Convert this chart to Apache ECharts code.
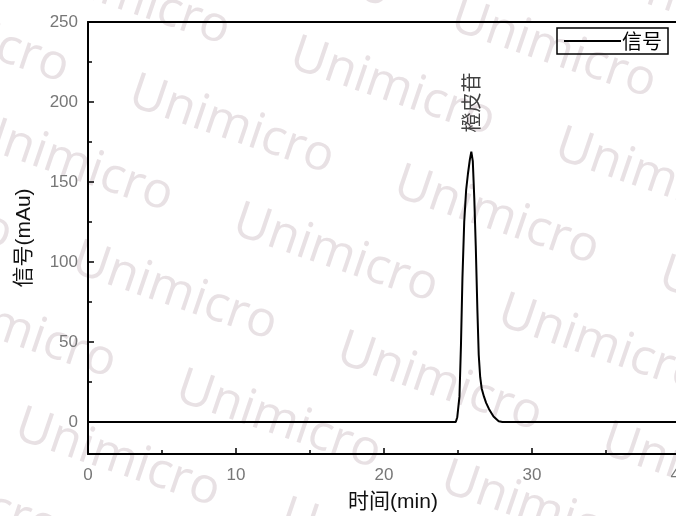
<!DOCTYPE html>
<html><head><meta charset="utf-8">
<script src="https://cdn.jsdelivr.net/npm/echarts@6/dist/echarts.min.js"></script>
<style>html,body{margin:0;padding:0;background:#fff}#c{width:676px;height:516px}</style>
</head><body><div id="c"></div>
<script>
// Chromatogram signal: [time (min), signal (mAu)]
const signalTimes  = [0, 24.85, 24.95, 25.1, 25.2, 25.3, 25.42, 25.55, 25.67, 25.8, 25.9, 26.0, 26.1, 26.2, 26.31, 26.4, 26.5, 26.6, 26.75, 26.9, 27.1, 27.4, 27.75, 28.0, 40];
const signalValues = [0, 0, 3, 16, 48, 90, 125, 145, 155, 164, 169, 163, 140, 110, 70, 42, 28, 21, 16, 12, 8, 3.5, 0.5, 0, 0];
const seriesName = '信号';
const peakName = '橙皮苷';
const peakPoint = [25.9, 169];
const xTicks = [0, 10, 20, 30, 40];
const yTicks = [0, 50, 100, 150, 200, 250];
const yMinorTicks = [25, 75, 125, 175, 225];
const xAxisName = '时间(min)';
const yAxisName = '信号(mAu)';
const watermarkText = 'Unimicro';

const signalData = signalTimes.map((t, i) => [t, signalValues[i]]);

const wmChildren = [];
for (let r = -5; r <= 5; r++) {
  for (let c = -3; c <= 3; c++) {
    wmChildren.push({
      type: 'text',
      x: c * 280 + (Math.abs(r) % 2) * 140 - 110,
      y: r * 88 - 28,
      style: { text: watermarkText, fill: 'rgba(185,165,172,0.33)', fontSize: 50, fontFamily: 'Open Sans' }
    });
  }
}

const font = '"Liberation Sans", Arial, "Noto Sans CJK SC", sans-serif';
const cjk = '"Noto Sans CJK SC", "Liberation Sans", sans-serif';
const chart = echarts.init(document.getElementById('c'));
chart.setOption({
  animation: false,
  backgroundColor: '#fff',
  graphic: [{ type: 'group', x: 338, y: 258, rotation: -0.33, z: -10, silent: true, children: wmChildren }],
  grid: { left: 88, top: 22, width: 592, bottom: 62, containLabel: false, outerBoundsMode: 'none' },
  legend: {
    data: [{ name: seriesName, icon: 'rect' }], right: 8, top: 28, orient: 'horizontal',
    borderColor: '#000', borderWidth: 1.5, borderRadius: 0,
    padding: [3, 6, 3, 7], itemWidth: 57, itemHeight: 2, itemGap: 2,
    itemStyle: { color: '#000' },
    textStyle: { fontSize: 20, color: '#000', fontFamily: cjk, padding: [0, 0, 0, -4] }
  },
  xAxis: [{
    type: 'value', min: 0, max: 40, interval: 10, position: 'bottom',
    name: xAxisName, nameLocation: 'middle', nameGap: 38,
    nameTextStyle: { fontSize: 21, color: '#111', fontFamily: font, padding: [0, 0, 0, 18] },
    axisLine: { show: true, onZero: false, lineStyle: { color: '#000', width: 2 } },
    axisTick: { show: true, inside: true, length: 6, lineStyle: { color: '#000', width: 1.5 } },
    minorTick: { show: true, splitNumber: 2, length: 4, lineStyle: { color: '#000', width: 1.5 } },
    axisLabel: { fontSize: 17, color: '#777', margin: 13, fontFamily: font, formatter: v => xTicks.includes(v) ? String(v) : '' },
    splitLine: { show: false }
  }, {
    type: 'value', min: 0, max: 40, position: 'top',
    axisLine: { show: true, onZero: false, lineStyle: { color: '#000', width: 2 } },
    axisTick: { show: false }, axisLabel: { show: false }, splitLine: { show: false }
  }],
  yAxis: [{
    type: 'value', min: -20, max: 250, position: 'left',
    name: yAxisName, nameLocation: 'middle', nameGap: 53, nameRotate: 90,
    nameTextStyle: { fontSize: 21, color: '#111', fontFamily: font },
    axisLine: { show: true, onZero: false, lineStyle: { color: '#000', width: 2 } },
    axisTick: { show: true, inside: true, length: 6, customValues: yTicks, lineStyle: { color: '#000', width: 1.5 } },
    axisLabel: { fontSize: 17, color: '#777', margin: 10, fontFamily: font, customValues: yTicks },
    splitLine: { show: false }
  }, {
    type: 'value', min: -20, max: 250, position: 'left',
    axisLine: { show: false },
    axisTick: { show: true, inside: true, length: 4, customValues: yMinorTicks, lineStyle: { color: '#000', width: 1.5 } },
    axisLabel: { show: false }, splitLine: { show: false }
  }],
  series: [{
    name: seriesName, type: 'line', data: signalData, symbol: 'none', showSymbol: false,
    lineStyle: { color: '#000', width: 2 }, itemStyle: { color: '#000' }, z: 5
  }, {
    name: peakName, type: 'scatter', data: [peakPoint], symbolSize: 0,
    label: {
      show: true, formatter: peakName, position: 'top', distance: 19, rotate: 90,
      align: 'left', verticalAlign: 'middle', fontSize: 20, color: '#111',
      fontFamily: cjk
    }, z: 5
  }]
});
</script></body></html>
